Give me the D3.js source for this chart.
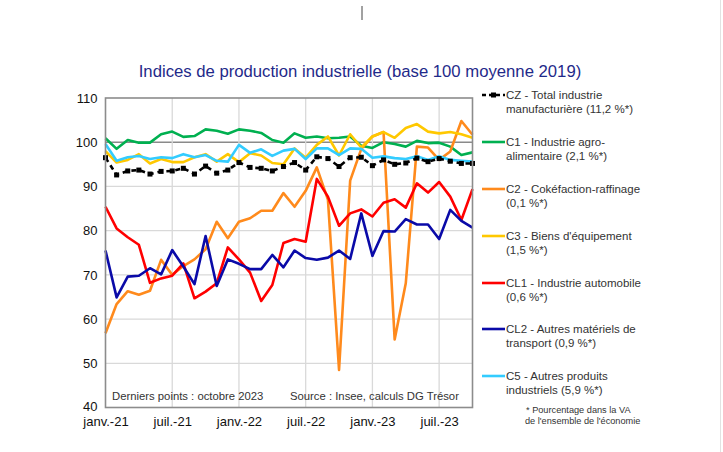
<!DOCTYPE html>
<html><head><meta charset="utf-8">
<script src="https://cdn.jsdelivr.net/npm/d3@7"></script>
<style>body{margin:0;background:#fff;}svg{display:block;font-family:"Liberation Sans",Arial,sans-serif;}</style>
</head><body>
<svg id="c" width="723" height="452"></svg>
<script>
const months = d3.range(34).map(i => new Date(2021, i, 1));
const tickLabels = ["janv.-21","juil.-21","janv.-22","juil.-22","janv.-23","juil.-23"];
const tickIdx = [0,6,12,18,24,30];
const yTicks = [40,50,60,70,80,90,100,110];

const cz  = [96.5,92.6,93.5,93.7,92.8,93.4,93.5,94.1,92.8,94.6,93.0,93.7,95.4,94.3,94.1,93.5,94.5,95.4,93.7,96.7,96.3,94.5,96.5,96.6,94.7,96.0,95.0,95.3,96.4,95.6,96.3,95.7,95.2,95.2];
const c1  = [100.9,98.5,100.5,99.9,99.9,101.8,102.4,101.2,101.4,102.9,102.6,101.9,102.9,102.6,102.1,100.5,99.9,102.0,101.0,101.3,100.9,101.0,101.3,99.2,98.7,100.0,99.6,99.0,100.3,99.8,99.9,99.0,97.1,97.7];
const c2  = [56.8,63.4,66.3,65.5,66.4,73.4,70.0,72.0,73.5,75.8,82.0,78.3,82.0,82.8,84.5,84.5,88.5,85.4,89.0,94.3,87.0,48.5,91.3,98.5,101.3,102.3,55.4,68.1,99.0,98.8,96.0,97.9,104.8,101.7];
const c3  = [98.0,95.4,96.0,97.3,95.2,96.2,95.5,95.5,96.6,97.3,95.6,97.3,95.5,97.5,97.0,95.3,95.0,98.6,96.5,99.4,101.3,97.0,101.8,98.8,101.3,102.3,101.0,103.2,104.1,102.4,102.0,102.3,101.8,101.0];
const cl1 = [85.4,80.5,78.5,76.8,68.2,69.2,69.8,72.6,64.7,66.2,68.1,76.2,73.5,70.5,64.1,67.7,77.2,78.1,77.5,91.7,87.7,81.1,83.9,84.8,83.2,86.3,87.1,85.2,90.7,88.6,91.0,87.7,82.4,89.4];
const cl2 = [75.5,64.9,69.6,69.8,71.5,70.1,75.6,71.9,67.9,78.8,67.5,73.5,72.5,71.3,71.3,74.5,71.7,75.5,73.8,73.4,73.9,75.5,73.6,83.9,74.3,79.9,79.8,82.6,81.4,81.4,78.1,84.7,82.2,80.7];
const c5  = [99.6,95.8,96.6,96.9,96.2,96.6,96.4,97.3,96.6,97.1,95.8,95.6,99.4,97.6,98.4,96.9,98.1,98.5,96.2,98.6,98.6,97.1,98.6,98.5,96.5,96.8,96.4,96.2,96.8,96.0,96.8,96.0,95.8,95.6];

const seriesNames = ["CZ - Total industrie|manufacturière (11,2 %*)","C1 - Industrie agro-|alimentaire (2,1 %*)","C2 - Cokéfaction-raffinage|(0,1 %*)","C3 - Biens d'équipement|(1,5 %*)","CL1 - Industrie automobile|(0,6 %*)","CL2 - Autres matériels de|transport (0,9 %*)","C5 - Autres produits|industriels (5,9 %*)"];
const seriesColors = ["#000000","#00B050","#FF8A1C","#FFC800","#FF0000","#0A0AA8","#33CCFF"];
const seriesData = [cz,c1,c2,c3,cl1,cl2,c5];

const svg = d3.select("#c");
svg.append("rect").attr("width",723).attr("height",452).attr("fill","#fff");
svg.append("line").attr("x1",720.5).attr("x2",720.5).attr("y1",0).attr("y2",452).attr("stroke","#e2e2e2");
svg.append("line").attr("x1",362).attr("x2",362).attr("y1",6).attr("y2",20).attr("stroke","#444").attr("stroke-width",1);

const L=105.5, R=472.5, T=98, B=407.5;
const x = d3.scaleLinear().domain([0,33]).range([L,R]);
const y = d3.scaleLinear().domain([40,110]).range([B,T]);

svg.append("text").attr("x",360).attr("y",77).attr("text-anchor","middle")
  .attr("font-size",16.7).attr("fill","#1F2A8A").text("Indices de production industrielle (base 100 moyenne 2019)");

// grid
const g = svg.append("g");
g.selectAll(".hg").data(yTicks.filter(v=>v>40&&v<110)).join("line")
  .attr("x1",L).attr("x2",R).attr("y1",d=>y(d)).attr("y2",d=>y(d))
  .attr("stroke",d=>d===100?"#8a8a8a":"#d9d9d9").attr("stroke-width",d=>d===100?1.6:1.3);
g.selectAll(".vg").data(tickIdx.filter(i=>i>0)).join("line")
  .attr("x1",d=>x(d)).attr("x2",d=>x(d)).attr("y1",T).attr("y2",B)
  .attr("stroke","#d9d9d9").attr("stroke-width",1.3);

// axes labels
const yAxis = d3.axisLeft(y).tickValues(yTicks).tickSize(0).tickPadding(8);
const ya = svg.append("g").attr("transform",`translate(${L},0)`).call(yAxis);
ya.select(".domain").remove();
ya.selectAll("text").attr("font-size",13).attr("fill","#111").attr("font-family","Liberation Sans, Arial, sans-serif")
  .attr("dy",d=>d===40?"0.2em":"0.32em");
const xAxis = d3.axisBottom(x).tickValues(tickIdx).tickFormat((d,i)=>tickLabels[i]).tickSize(0).tickPadding(9);
const xa = svg.append("g").attr("transform",`translate(0,${B})`).call(xAxis);
xa.select(".domain").remove();
xa.selectAll("text").attr("font-size",13).attr("fill","#111").attr("font-family","Liberation Sans, Arial, sans-serif");

// lines
const line = d3.line().x((d,i)=>x(i)).y(d=>y(d));
const drawOrder = [1,2,3,4,5,6];
drawOrder.forEach(k=>{
  svg.append("path").datum(seriesData[k]).attr("d",line).attr("fill","none")
    .attr("stroke",seriesColors[k]).attr("stroke-width",2.6).attr("stroke-linejoin","round");
});
svg.append("path").datum(cz).attr("d",line).attr("fill","none")
  .attr("stroke","#000").attr("stroke-width",2.6).attr("stroke-dasharray","5,4");
svg.selectAll(".mk").data(cz).join("rect")
  .attr("x",(d,i)=>x(i)-2.5).attr("y",d=>y(d)-2.5).attr("width",5).attr("height",5).attr("fill","#000");

// border
svg.append("rect").attr("x",L).attr("y",T).attr("width",R-L).attr("height",B-T)
  .attr("fill","none").attr("stroke","#8c8c8c").attr("stroke-width",1.6);

// notes
svg.append("text").attr("x",112).attr("y",400).attr("font-size",11.3).attr("fill","#333").text("Derniers points : octobre 2023");
svg.append("text").attr("x",290).attr("y",400).attr("font-size",11.3).attr("fill","#333").text("Source : Insee, calculs DG Trésor");

// legend
const legY = [95,142,189,236,283,329,376];
seriesNames.forEach((nm,k)=>{
  const gy = legY[k];
  const lg = svg.append("g");
  if(k===0){
    lg.append("line").attr("x1",482).attr("x2",505).attr("y1",gy).attr("y2",gy)
      .attr("stroke","#000").attr("stroke-width",2.6).attr("stroke-dasharray","4,3");
    lg.append("rect").attr("x",491).attr("y",gy-2.5).attr("width",5).attr("height",5).attr("fill","#000");
  } else {
    lg.append("line").attr("x1",482).attr("x2",505).attr("y1",gy).attr("y2",gy)
      .attr("stroke",seriesColors[k]).attr("stroke-width",2.6);
  }
  const parts = nm.split("|");
  parts.forEach((p,j)=>{
    lg.append("text").attr("x",506).attr("y",gy+4+j*14).attr("font-size",11.5).attr("fill","#333").text(p);
  });
});
svg.append("text").attr("x",526).attr("y",413).attr("font-size",9.2).attr("fill","#333").text("* Pourcentage dans la VA");
svg.append("text").attr("x",525).attr("y",424).attr("font-size",9.2).attr("fill","#333").text("de l'ensemble de l'économie");
</script>
</body></html>
